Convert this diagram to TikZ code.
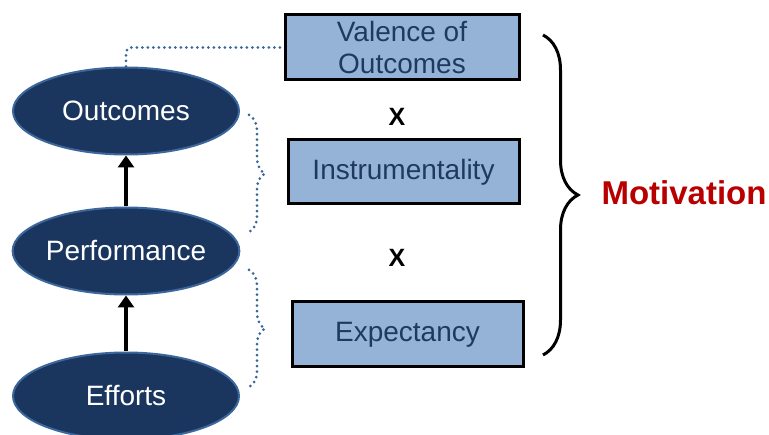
\documentclass[tikz,border=0pt]{standalone}
\usepackage{fontspec}
\setmainfont{Liberation Sans}
\usetikzlibrary{shapes.geometric,arrows.meta,decorations.pathreplacing}
\definecolor{navy}{HTML}{1B365E}
\definecolor{navyedge}{HTML}{3C679C}
\definecolor{boxfill}{HTML}{95B3D7}
\definecolor{boxtext}{HTML}{1F3A60}
\definecolor{dotblue}{HTML}{3A6598}
\definecolor{motred}{HTML}{B80000}
\tikzset{
  oval/.style={ellipse, draw=navyedge, line width=2pt, fill=navy, text=white,
    minimum width=226pt, minimum height=87pt, inner sep=0pt,
    font=\fontsize{28}{32}\selectfont},
  factor/.style={rectangle, draw=black, line width=3pt, fill=boxfill, text=boxtext,
    inner sep=0pt, align=center, font=\fontsize{28}{32}\selectfont},
  dotline/.style={draw=dotblue, line width=3pt, line cap=round, dash pattern=on 0pt off 5.5pt},
  times/.style={font=\bfseries\fontsize{25}{27}\selectfont},
  upar/.style={draw=black, line width=3.2pt, -{Triangle[length=12pt,width=16pt]}},
}
\begin{document}
\begin{tikzpicture}[x=1pt,y=-1pt]
\clip (0,0) rectangle (769,435);
\fill[white] (0,0) rectangle (769,435);
% ovals
\node[oval] (out) at (126,111) {Outcomes};
\node[oval] (perf) at (126,251) {Performance};
\node[oval] (eff) at (126,396) {Efforts};
% arrows
\draw[upar] (perf) -- (out);
\draw[upar] (eff) -- (perf);
% boxes
\node[factor, minimum width=234pt, minimum height=65pt] (val) at (402,47.5) {Valence of\\Outcomes};
\node[factor, minimum width=231pt, minimum height=64pt] (inst) at (403.5,172) {Instrumentality};
\node[factor, minimum width=231pt, minimum height=65pt] (exp) at (407.5,334.5) {Expectancy};
% x signs
\node[times] (x1) at (397,117) {X};
\node[times] (x2) at (397,258) {X};
% dotted connector
\draw[dotline, rounded corners=5pt] (out.north) |- (val.west);
% dotted braces
\coordinate (b1s) at (249,115);
\coordinate (b1e) at (249,232);
\coordinate (b2s) at (249,270);
\coordinate (b2e) at (249,387);
\draw[dotline, decorate, decoration={brace, amplitude=16pt}] (b1s) -- (b1e);
\draw[dotline, decorate, decoration={brace, amplitude=16pt}] (b2s) -- (b2e);
% big brace
\coordinate (bs) at (543,35);
\coordinate (be) at (543,355);
\draw[line width=3pt, decorate, decoration={brace, amplitude=35pt}] (bs) -- (be);
% motivation
\node[text=motred, font=\bfseries\fontsize{33}{36}\selectfont] (mot) at (684,193) {Motivation};
\end{tikzpicture}
\end{document}
